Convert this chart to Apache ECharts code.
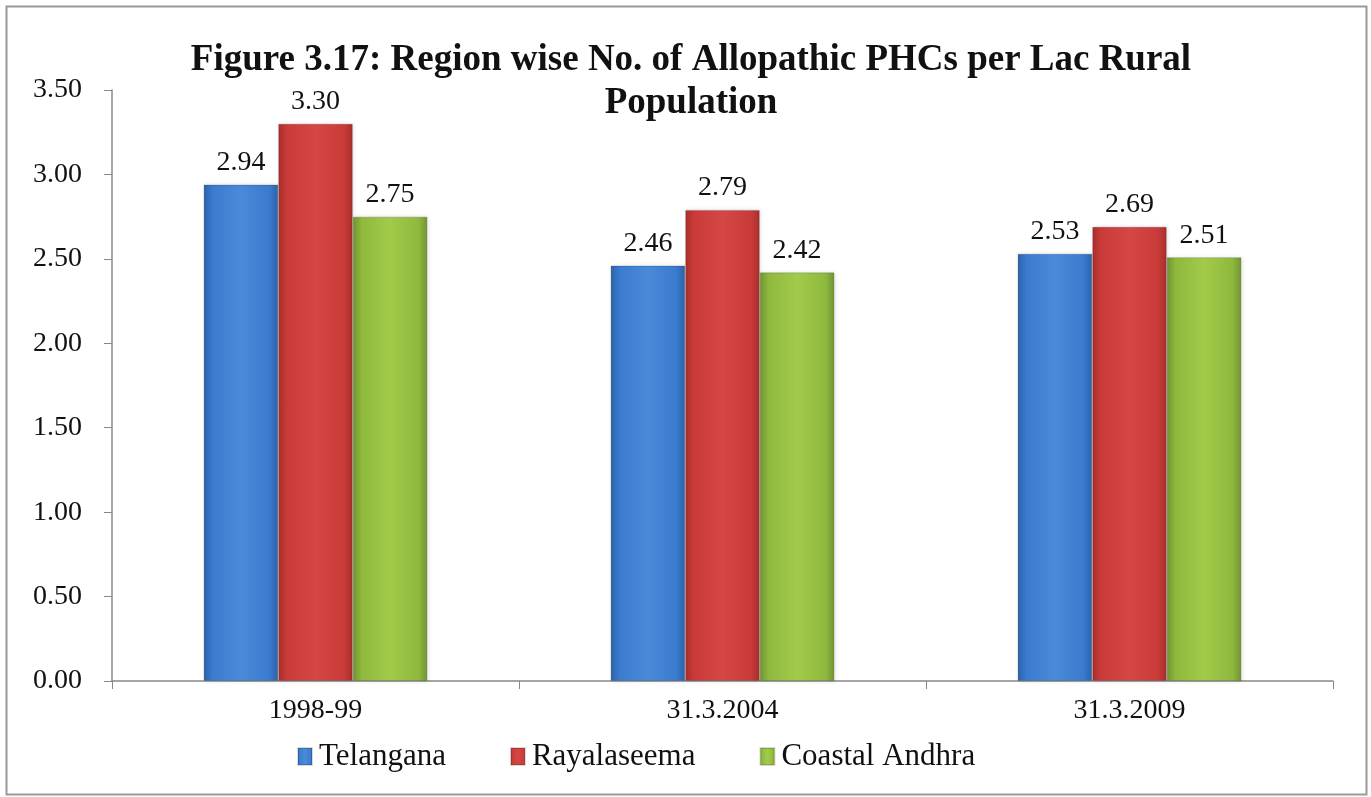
<!DOCTYPE html>
<html>
<head>
<meta charset="utf-8">
<script src="https://cdn.jsdelivr.net/npm/echarts@6/dist/echarts.min.js"></script>
<style>
  html, body { margin: 0; padding: 0; background: #fff; }
  #main { width: 1371px; height: 797px; }
</style>
</head>
<body>
<div id="main"></div>
<script>
var categories = ['1998-99', '31.3.2004', '31.3.2009']
var telangana = [2.94, 2.46, 2.53]
var rayalaseema = [3.30, 2.79, 2.69]
var coastalAndhra = [2.75, 2.42, 2.51]

var serif = '"Liberation Serif", "DejaVu Serif", serif'

// bevel-ish look: darker edges, lighter middle
function barFill(dark, mid, light) {
  return new echarts.graphic.LinearGradient(0, 0, 1, 0, [
    { offset: 0, color: dark },
    { offset: 0.12, color: mid },
    { offset: 0.5, color: light },
    { offset: 0.88, color: mid },
    { offset: 1, color: dark }
  ])
}

function makeSeries(name, data, fill) {
  return {
    name: name,
    type: 'bar',
    data: data,
    barGap: '0%',
    barCategoryGap: '45%',
    itemStyle: {
      color: fill,
      borderColor: 'rgba(0,0,0,0.15)',
      borderWidth: 1,
      shadowColor: 'rgba(0,0,0,0.15)',
      shadowBlur: 4,
      shadowOffsetX: 1
    },
    label: {
      show: true,
      position: 'top',
      distance: 8,
      formatter: function (p) { return p.value.toFixed(2) },
      fontFamily: serif,
      fontSize: 28,
      color: '#111'
    }
  }
}

var chart = echarts.init(document.getElementById('main'))
var options = {
  backgroundColor: '#fff',
  color: ['#3a7bd0', '#cf3d3b', '#96c040'],
  title: {
    text: 'Figure 3.17: Region wise No. of Allopathic PHCs per Lac Rural\nPopulation',
    left: 686,
    textAlign: 'center',
    top: 34,
    textStyle: {
      fontFamily: serif,
      fontWeight: 'bold',
      fontSize: 37,
      lineHeight: 43,
      color: '#111'
    }
  },
  grid: {
    left: 112,
    right: 38,
    top: 90,
    bottom: 116
  },
  legend: {
    bottom: 20,
    left: 292,
    itemWidth: 14,
    itemHeight: 17,
    itemGap: 64,
    icon: 'rect',
    textStyle: {
      fontFamily: serif,
      fontSize: 31,
      color: '#111',
      padding: [0, 0, 0, 2]
    }
  },
  xAxis: {
    type: 'category',
    data: categories,
    axisLine: { lineStyle: { color: '#888', width: 1.5 } },
    axisTick: { show: true, length: 8, lineStyle: { color: '#888' } },
    axisLabel: {
      fontFamily: serif,
      fontSize: 28,
      color: '#111',
      margin: 16
    }
  },
  yAxis: {
    type: 'value',
    min: 0,
    max: 3.5,
    interval: 0.5,
    splitLine: { show: false },
    axisLine: { show: true, lineStyle: { color: '#888', width: 1.5 } },
    axisTick: { show: true, length: 8, lineStyle: { color: '#888' } },
    axisLabel: {
      fontFamily: serif,
      fontSize: 28,
      color: '#111',
      margin: 30,
      formatter: function (v) { return v.toFixed(2) }
    }
  },
  graphic: [{
    type: 'rect',
    left: 4,
    top: 4,
    shape: { width: 1360, height: 788 },
    style: { fill: 'none', stroke: '#999', lineWidth: 2 },
    silent: true
  }],
  series: [
    makeSeries('Telangana', telangana, barFill('#2c62a8', '#3a7bd0', '#4a8ad8')),
    makeSeries('Rayalaseema', rayalaseema, barFill('#a82e2c', '#c93b39', '#d54744')),
    makeSeries('Coastal Andhra', coastalAndhra, barFill('#6f9430', '#8fb93e', '#a2cb4a'))
  ]
}
chart.setOption(options)
</script>
</body>
</html>
